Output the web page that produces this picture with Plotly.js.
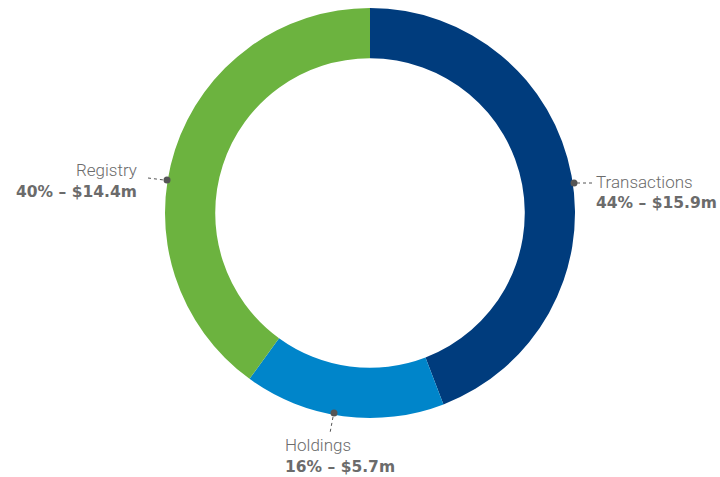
<!DOCTYPE html>
<html>
<head>
<meta charset="utf-8">
<script src="https://cdn.plot.ly/plotly-3.0.1.min.js"></script>
<style>html,body{margin:0;padding:0;background:#fff;}#chart{width:720px;height:477px;}</style>
</head>
<body>
<div id="chart"></div>
<script>
const categories = ["Transactions", "Holdings", "Registry"];
const values = [15.9, 5.7, 14.4];
const percents = ["44%", "16%", "40%"];
const amounts = ["$15.9m", "$5.7m", "$14.4m"];
const colors = ["#003c7d", "#0085ca", "#6cb33f"];

const W = 720, H = 477;
const px = x => x / W;
const py = y => 1 - y / H;

// label placement (pixel space)
const labelPos = [
  {tx: 594, y1: 182, y2: 203, xanchor: "left", dot: [574, 183], line: [[577, 183], [593, 183]]},
  {tx: 283, y1: 445, y2: 467, xanchor: "left", dot: [334, 413], line: [[333, 417], [330, 433]]},
  {tx: 139, y1: 170, y2: 192, xanchor: "right", dot: [167, 180], line: [[148, 178], [164, 180]]}
];

const annotations = [], shapes = [];
categories.forEach((c, i) => {
  const p = labelPos[i];
  annotations.push({
    xref: "paper", yref: "paper", x: px(p.tx), y: py(p.y1),
    xanchor: p.xanchor, yanchor: "middle", showarrow: false,
    text: c,
    font: {family: "Roboto", size: 17, weight: 300, color: "#6b6b6b"}
  });
  annotations.push({
    xref: "paper", yref: "paper", x: px(p.tx), y: py(p.y2),
    xanchor: p.xanchor, yanchor: "middle", showarrow: false,
    text: percents[i] + ' \u2013 ' + amounts[i],
    font: {family: "DejaVu Sans", size: 15.5, weight: 700, color: "#6b6b6b"}
  });
  shapes.push({
    type: "line", xref: "paper", yref: "paper",
    x0: px(p.line[0][0]), y0: py(p.line[0][1]), x1: px(p.line[1][0]), y1: py(p.line[1][1]),
    line: {color: "#555", width: 1, dash: "dot"}
  });
  const r = 3.5;
  shapes.push({
    type: "circle", xref: "paper", yref: "paper",
    x0: px(p.dot[0] - r), x1: px(p.dot[0] + r), y0: py(p.dot[1] - r), y1: py(p.dot[1] + r),
    fillcolor: "#555", line: {width: 0}
  });
});

const cx = 370, cy = 213, R = 205;
const data = [{
  type: "pie",
  labels: categories,
  values: values,
  hole: 0.755,
  sort: false,
  direction: "clockwise",
  rotation: 0,
  textinfo: "none",
  hoverinfo: "none",
  marker: {colors: colors, line: {width: 0}},
  domain: {x: [px(cx - R), px(cx + R)], y: [py(cy + R), py(cy - R)]}
}];

const layout = {
  width: W, height: H,
  margin: {l: 0, r: 0, t: 0, b: 0},
  showlegend: false,
  paper_bgcolor: "#fff",
  annotations: annotations,
  shapes: shapes
};

Plotly.newPlot("chart", data, layout, {displayModeBar: false, staticPlot: true});
</script>
</body>
</html>
